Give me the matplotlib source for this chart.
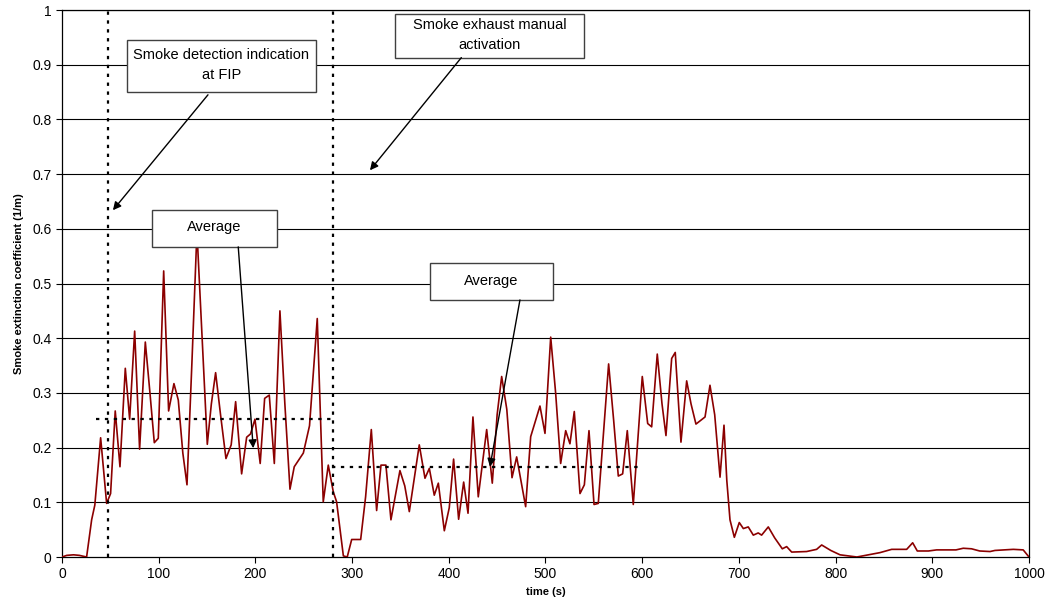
"""
Smoke extinction coefficient measured over the test, with event markers and averages.
"""

import matplotlib
matplotlib.use("Agg")
import matplotlib.pyplot as plt
from matplotlib.patches import Rectangle

plt.rcParams["font.family"] = ["Liberation Sans", "DejaVu Sans"]

# ---------------------------------------------------------------------------
# Data
# ---------------------------------------------------------------------------

time_s = [
    0, 5, 12, 18, 25.5, 30.7, 34, 40, 46.2, 50.3, 55.1, 60, 65.5, 70, 75.2,
    80.3, 86.2, 91, 95.5, 99.6, 105.2, 110.3, 115.8, 120.3, 125, 129.3, 134.5,
    139.6, 145, 150.3, 154.5, 158.9, 164, 169.6, 175, 179.6, 185.8, 191, 195,
    199.6, 205, 209.6, 214.4, 219.6, 225.4, 230.5, 235.8, 240.2, 249.6, 256,
    264, 270.2, 275.4, 280.6, 284, 291, 295, 299.6, 308.9, 314, 319.9, 325.4,
    329.9, 335, 340.2, 349.5, 354.5, 359.2, 369.5, 375.4, 379.9, 385, 389.2,
    395.4, 400.5, 405, 410.2, 415.4, 419.9, 425, 430.5, 439.2, 445, 450,
    454.7, 460, 465.4, 470.2, 479.5, 484.7, 494.3, 499.5, 505.4, 510.5,
    515.7, 520.9, 525.3, 529.8, 535.7, 540.2, 545, 550.2, 554.6, 565.3, 570.5,
    575.3, 579.8, 584.6, 590.8, 600.1, 605.7, 609.8, 615.6, 620.5, 624.6,
    630.5, 634.2, 640.1, 646, 650.5, 655.6, 665, 670.1, 675, 680.5, 684.6,
    687.5, 690.8, 695.3, 700.4, 704.6, 709.7, 714.9, 720, 723.5, 730.4, 737,
    744.9, 749.4, 754.6, 770, 780.4, 785.6, 795, 804.6, 822, 845.9, 858,
    873.5, 879.7, 884.5, 896, 904.5, 924.5, 932, 940.6, 949, 959.7, 964.8,
    983.8, 994, 1000,
]
extinction_per_m = [
    0.000, 0.003, 0.004, 0.003, 0.000, 0.068, 0.095, 0.218, 0.098, 0.116,
    0.267, 0.165, 0.345, 0.252, 0.413, 0.197, 0.393, 0.300, 0.209, 0.217,
    0.523, 0.267, 0.317, 0.287, 0.190, 0.132, 0.360, 0.595, 0.400, 0.206,
    0.280, 0.337, 0.260, 0.180, 0.205, 0.284, 0.152, 0.219, 0.225, 0.252,
    0.171, 0.290, 0.296, 0.171, 0.450, 0.280, 0.124, 0.165, 0.190, 0.240,
    0.436, 0.101, 0.168, 0.119, 0.101, 0.002, 0.000, 0.032, 0.032, 0.110,
    0.233, 0.085, 0.168, 0.168, 0.068, 0.158, 0.130, 0.083, 0.205, 0.144,
    0.162, 0.113, 0.135, 0.048, 0.090, 0.179, 0.069, 0.137, 0.080, 0.256,
    0.110, 0.233, 0.135, 0.260, 0.330, 0.270, 0.145, 0.183, 0.092, 0.220,
    0.276, 0.226, 0.402, 0.300, 0.171, 0.231, 0.207, 0.266, 0.116, 0.132,
    0.231, 0.096, 0.098, 0.353, 0.250, 0.148, 0.152, 0.231, 0.096, 0.330,
    0.244, 0.238, 0.371, 0.280, 0.222, 0.363, 0.374, 0.210, 0.322, 0.280,
    0.243, 0.256, 0.314, 0.260, 0.146, 0.241, 0.140, 0.068, 0.036, 0.063,
    0.052, 0.055, 0.040, 0.044, 0.040, 0.055, 0.035, 0.015, 0.019, 0.009,
    0.010, 0.014, 0.022, 0.012, 0.004, 0.000, 0.008, 0.014, 0.014, 0.026,
    0.011, 0.011, 0.013, 0.013, 0.016, 0.015, 0.011, 0.010, 0.012, 0.014,
    0.013, 0.000,
]

event_times = [48, 280]
average_values = [0.252, 0.165]
average_spans = [(35, 280), (279, 600)]

box_labels = [
    "Smoke detection indication\nat FIP",
    "Smoke exhaust manual\nactivation",
    "Average",
    "Average",
]
box_extents = [  # (x0, x1, y0, y1) in data units
    (67.2, 262.7, 0.850, 0.945),
    (344.5, 540.0, 0.913, 0.993),
    (93.1, 222.3, 0.567, 0.634),
    (380.6, 507.8, 0.470, 0.537),
]
arrow_tails = [(151, 0.845), (413, 0.913), (182.3, 0.567), (473.6, 0.470)]
arrow_heads = [(52.7, 0.634), (318.5, 0.707), (197.8, 0.199), (442.6, 0.165)]

y_ticks = [0, 0.1, 0.2, 0.3, 0.4, 0.5, 0.6, 0.7, 0.8, 0.9, 1]
y_tick_labels = ["0", "0.1", "0.2", "0.3", "0.4", "0.5", "0.6", "0.7", "0.8", "0.9", "1"]
x_ticks = list(range(0, 1001, 100))

# ---------------------------------------------------------------------------
# Plot
# ---------------------------------------------------------------------------

fig = plt.figure(figsize=(10.5, 6.15), dpi=100)
ax = fig.add_axes([0.059, 0.0943, 0.921, 0.8894])

for y in y_ticks[1:]:
    ax.axhline(y, color="black", linewidth=0.8, zorder=1)

ax.plot(time_s, extinction_per_m, color="#8b0000", linewidth=1.2, zorder=3,
        solid_joinstyle="round")

for t in event_times:
    ax.axvline(t, color="black", linestyle=(0, (1.5, 2.5)), linewidth=1.6, zorder=4)

for value, (x0, x1) in zip(average_values, average_spans):
    ax.plot([x0, x1], [value, value], color="black", linestyle=(0, (1.5, 2.5)),
            linewidth=1.6, zorder=4)

for label, (x0, x1, y0, y1) in zip(box_labels, box_extents):
    ax.add_patch(Rectangle((x0, y0), x1 - x0, y1 - y0, facecolor="white",
                           edgecolor="#404040", linewidth=1.0, zorder=5))
    ax.text((x0 + x1) / 2, (y0 + y1) / 2 + 0.002, label, ha="center", va="center",
            fontsize=10.5, linespacing=1.55, color="black", zorder=6)

for tail, head in zip(arrow_tails, arrow_heads):
    ax.annotate("", xy=head, xytext=tail,
                arrowprops=dict(arrowstyle="-|>", color="black", linewidth=1.0,
                                mutation_scale=12, shrinkA=0, shrinkB=0),
                zorder=6)

ax.set_xlim(0, 1000)
ax.set_ylim(0, 1)
ax.set_xticks(x_ticks)
ax.set_yticks(y_ticks)
ax.set_yticklabels(y_tick_labels)
ax.tick_params(axis="both", direction="out", length=4, width=0.8, labelsize=10)
ax.set_xlabel("time (s)", fontsize=8, fontweight="bold", labelpad=4)
ax.set_ylabel("Smoke extinction coefficient (1/m)", fontsize=8, fontweight="bold",
              labelpad=6)
for side in ["left", "bottom", "right", "top"]:
    ax.spines[side].set_color("black")
    ax.spines[side].set_linewidth(0.9)

fig.savefig("out.png", dpi=100)
plt.close(fig)
